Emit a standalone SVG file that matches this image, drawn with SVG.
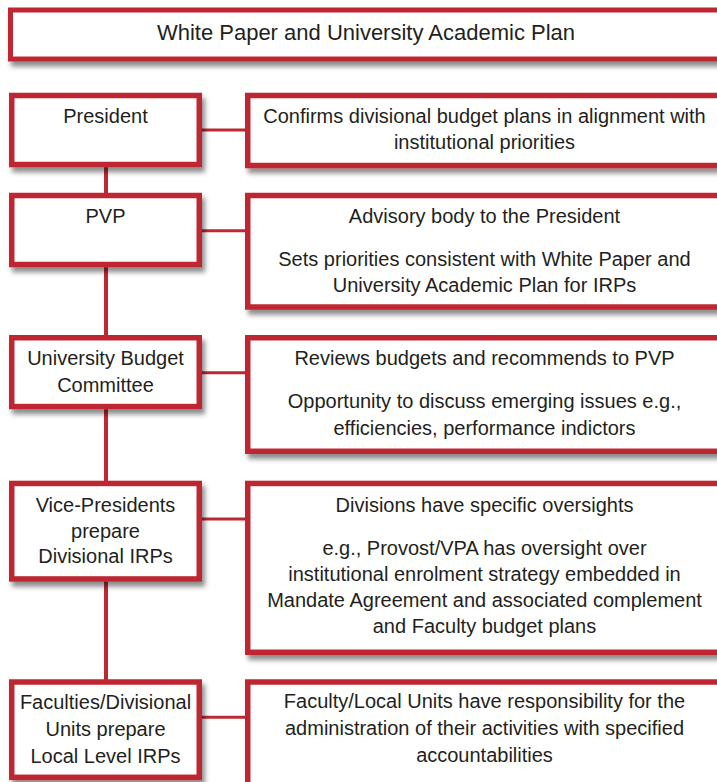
<svg xmlns="http://www.w3.org/2000/svg" width="717" height="782" viewBox="0 0 717 782">
<defs>
<filter id="sh" x="-10%" y="-20%" width="130%" height="160%">
<feDropShadow dx="3" dy="5" stdDeviation="2.5" flood-color="#000" flood-opacity="0.45"/>
</filter>
<style>
.box{fill:#fff;stroke:#be2832;stroke-width:5.5;filter:url(#sh)}
.t{font-family:"Liberation Sans",Arial,sans-serif;font-size:20px;fill:#231f20;text-anchor:middle}
.tt{font-size:22px}
.c{stroke:#be2832;fill:none}
.v{stroke-width:4}
.h{stroke-width:3}
</style>
</defs>
<rect width="717" height="782" fill="#fff"/>
<g id="connectors">
<line class="c v" x1="106" y1="165" x2="106" y2="195"/>
<line class="c v" x1="106" y1="265" x2="106" y2="337"/>
<line class="c v" x1="106" y1="407" x2="106" y2="483"/>
<line class="c v" x1="106" y1="579" x2="106" y2="682"/>
<line class="c h" x1="200" y1="130" x2="247" y2="130"/>
<line class="c h" x1="200" y1="230.7" x2="247" y2="230.7"/>
<line class="c h" x1="200" y1="372.7" x2="247" y2="372.7"/>
<line class="c h" x1="200" y1="519" x2="247" y2="519"/>
<line class="c h" x1="200" y1="717.3" x2="247" y2="717.3"/>
</g>
<g id="title">
<rect class="box" x="10.5" y="10" width="716" height="49" style="stroke-width:5"/>
<text class="t tt" x="366" y="40">White Paper and University Academic Plan</text>
</g>
<g id="president">
<rect class="box" x="11.75" y="95.5" width="187.5" height="69"/>
<text class="t" x="105.5" y="123.3">President</text>
</g>
<g id="president-desc">
<rect class="box" x="247.75" y="95.5" width="476" height="70"/>
<text class="t" x="484.5" y="123.3">Confirms divisional budget plans in alignment with</text>
<text class="t" x="484.5" y="149">institutional priorities</text>
</g>
<g id="pvp">
<rect class="box" x="11.75" y="195.5" width="187.5" height="69"/>
<text class="t" x="105.5" y="222.7">PVP</text>
</g>
<g id="pvp-desc">
<rect class="box" x="247.75" y="195.5" width="476" height="111.5"/>
<text class="t" x="484.5" y="222.7">Advisory body to the President</text>
<text class="t" x="484.5" y="266">Sets priorities consistent with White Paper and</text>
<text class="t" x="484.5" y="291.5">University Academic Plan for IRPs</text>
</g>
<g id="ubc">
<rect class="box" x="11.75" y="337.75" width="187.5" height="68.8"/>
<text class="t" x="105.5" y="365">University Budget</text>
<text class="t" x="105.5" y="391.7">Committee</text>
</g>
<g id="ubc-desc">
<rect class="box" x="247.75" y="337.75" width="476" height="113.5"/>
<text class="t" x="484.5" y="365">Reviews budgets and recommends to PVP</text>
<text class="t" x="484.5" y="408.3">Opportunity to discuss emerging issues e.g.,</text>
<text class="t" x="484.5" y="435">efficiencies, performance indictors</text>
</g>
<g id="vp">
<rect class="box" x="11.75" y="483.45" width="187.5" height="95.5"/>
<text class="t" x="105.5" y="511.7">Vice-Presidents</text>
<text class="t" x="105.5" y="537.5">prepare</text>
<text class="t" x="105.5" y="563.3">Divisional IRPs</text>
</g>
<g id="vp-desc">
<rect class="box" x="247.75" y="483.45" width="476" height="168.8"/>
<text class="t" x="484.5" y="511.7">Divisions have specific oversights</text>
<text class="t" x="484.5" y="555">e.g., Provost/VPA has oversight over</text>
<text class="t" x="484.5" y="580.5">institutional enrolment strategy embedded in</text>
<text class="t" x="484.5" y="606.7">Mandate Agreement and associated complement</text>
<text class="t" x="484.5" y="633">and Faculty budget plans</text>
</g>
<g id="faculties">
<rect class="box" x="11.75" y="682" width="187.5" height="95.3"/>
<text class="t" x="105.5" y="709.3">Faculties/Divisional</text>
<text class="t" x="105.5" y="736">Units prepare</text>
<text class="t" x="105.5" y="762.7">Local Level IRPs</text>
</g>
<g id="faculties-desc">
<rect class="box" x="247.75" y="682" width="476" height="105"/>
<text class="t" x="484.5" y="708.3">Faculty/Local Units have responsibility for the</text>
<text class="t" x="484.5" y="735">administration of their activities with specified</text>
<text class="t" x="484.5" y="761.7">accountabilities</text>
</g>
</svg>
